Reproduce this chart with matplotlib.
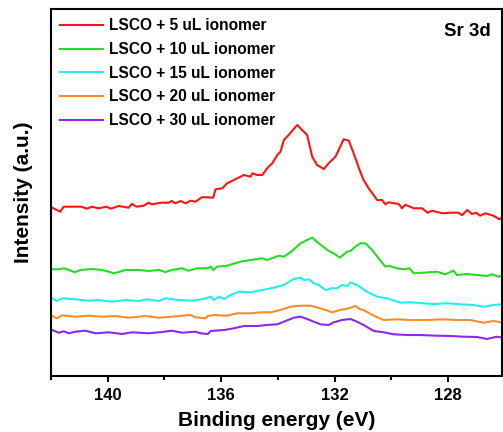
import matplotlib
matplotlib.use("Agg")
import matplotlib.pyplot as plt
from matplotlib.ticker import MultipleLocator

plt.rcParams['font.family'] = ['Liberation Sans', 'DejaVu Sans']
plt.rcParams['font.weight'] = 'bold'

# Sr 3d XPS spectra, binding energy (eV) vs intensity (a.u., offset stacked)
be_5 = [141.96, 141.67, 141.55, 140.92, 140.74, 140.56, 140.32, 140.04, 139.89, 139.61,
        139.26, 139.15, 138.98, 138.73, 138.56, 138.45, 138.10, 137.85, 137.75, 137.61,
        137.43, 137.25, 137.08, 136.90, 136.69, 136.48, 136.28, 136.20, 135.96, 135.79,
        135.43, 135.20, 134.96, 134.90, 134.73, 134.55, 134.38, 134.20, 134.02, 133.91,
        133.79, 133.62, 133.32, 132.97, 132.79, 132.62, 132.38, 132.21, 131.97, 131.68,
        131.50, 131.33, 131.12, 130.98, 130.80, 130.50, 130.33, 130.21, 130.10, 129.74,
        129.62, 129.51, 129.21, 128.92, 128.72, 128.57, 128.21, 127.92, 127.63, 127.51,
        127.33, 127.16, 127.01, 126.87, 126.69, 126.40, 126.19, 126.07]
int_5 = [168.3, 164.3, 169.3, 169.3, 167.3, 169.3, 167.7, 169.3, 167.3, 170.0,
         168.3, 172.0, 169.3, 170.3, 173.3, 171.7, 173.3, 173.3, 175.0, 172.7,
         175.0, 172.7, 175.3, 174.3, 178.7, 178.7, 178.3, 186.7, 187.7, 192.7,
         197.7, 201.0, 199.3, 202.7, 201.0, 201.0, 207.7, 212.7, 221.0, 224.3,
         236.0, 241.0, 251.0, 241.0, 219.3, 211.0, 207.0, 212.7, 219.3, 236.7,
         235.3, 222.7, 206.0, 196.0, 187.7, 176.0, 176.0, 171.7, 173.7, 172.0,
         167.7, 171.3, 167.7, 167.7, 163.3, 165.3, 162.7, 163.3, 163.3, 160.7,
         166.0, 162.0, 163.3, 160.3, 162.7, 160.3, 156.7, 159.3]

be_10 = [141.96, 141.73, 141.55, 141.37, 141.16, 140.96, 140.55, 140.20, 139.96, 139.79,
         139.61, 139.38, 138.91, 138.56, 138.20, 137.97, 137.74, 137.38, 137.15, 136.86,
         136.47, 136.37, 136.28, 136.14, 135.79, 135.32, 134.96, 134.55, 134.38, 133.97,
         133.79, 133.50, 133.20, 132.97, 132.79, 132.56, 132.21, 132.03, 131.82, 131.56,
         131.44, 131.27, 131.09, 130.92, 130.68, 130.45, 130.21, 130.10, 129.80, 129.57,
         129.36, 129.21, 128.86, 128.39, 128.10, 127.81, 127.69, 127.33, 126.98, 126.63,
         126.45, 126.22, 126.07]
int_10 = [106.7, 106.7, 107.7, 106.0, 103.7, 106.0, 107.0, 106.0, 104.3, 102.7,
          104.0, 106.0, 106.0, 105.0, 106.0, 104.0, 106.0, 107.7, 105.3, 107.7,
          107.7, 109.3, 106.0, 109.3, 110.3, 114.3, 116.0, 117.7, 116.0, 120.3,
          119.3, 125.0, 132.7, 136.0, 138.3, 132.7, 125.0, 122.7, 118.3, 124.3,
          125.0, 129.3, 132.7, 132.7, 126.0, 117.7, 109.3, 110.3, 107.7, 106.7,
          107.7, 102.7, 103.3, 104.3, 101.7, 105.3, 101.0, 102.0, 101.0, 100.0,
          101.7, 99.3, 101.0]

be_15 = [141.96, 141.79, 141.61, 141.14, 140.67, 140.32, 139.85, 139.38, 138.91, 138.62,
         138.20, 137.97, 137.50, 137.03, 136.68, 136.47, 136.37, 136.26, 136.08, 135.90,
         135.67, 135.38, 134.96, 134.55, 134.14, 133.79, 133.44, 133.20, 133.09, 132.91,
         132.74, 132.56, 132.32, 132.09, 131.91, 131.74, 131.56, 131.44, 131.21, 130.86,
         130.50, 130.15, 129.68, 129.33, 128.86, 128.51, 128.04, 127.57, 127.10, 126.75,
         126.40, 126.07]
int_15 = [77.7, 75.0, 77.7, 76.7, 75.3, 76.0, 74.3, 76.0, 75.0, 76.7,
          75.0, 77.7, 76.0, 75.3, 76.7, 78.3, 79.3, 76.0, 79.3, 77.0,
          81.0, 84.3, 83.7, 86.0, 88.3, 91.0, 97.0, 98.3, 96.0, 96.7,
          92.7, 91.0, 86.0, 87.7, 87.7, 91.0, 90.0, 93.5, 91.0, 84.3,
          79.3, 77.7, 73.3, 73.7, 72.7, 72.0, 72.7, 71.7, 71.0, 69.3,
          71.0, 71.7]

be_20 = [141.96, 141.79, 141.61, 141.14, 140.67, 140.20, 139.73, 139.26, 138.67, 138.20,
         137.74, 137.09, 136.91, 136.56, 136.47, 136.26, 135.79, 135.43, 134.96, 134.61,
         134.26, 133.91, 133.56, 133.20, 132.85, 132.50, 132.09, 131.80, 131.50, 131.27,
         131.12, 130.98, 130.62, 130.27, 129.80, 129.33, 128.74, 128.16, 127.69, 127.22,
         126.75, 126.40, 126.07]
int_20 = [60.0, 57.7, 60.7, 59.3, 60.3, 59.3, 60.0, 58.3, 60.0, 58.3,
          59.3, 61.0, 58.7, 57.7, 60.0, 61.0, 60.3, 62.7, 62.7, 63.7,
          63.7, 66.0, 69.3, 70.3, 70.3, 67.7, 63.7, 66.0, 67.7, 70.0,
          67.0, 66.0, 60.3, 56.0, 56.7, 56.0, 56.0, 56.7, 56.0, 56.0,
          53.3, 55.0, 53.3]

be_30 = [141.96, 141.73, 141.55, 141.37, 141.14, 140.79, 140.43, 139.96, 139.50, 139.14,
         138.56, 138.09, 137.74, 137.38, 136.91, 136.73, 136.47, 136.37, 135.90, 135.55,
         135.20, 134.73, 134.38, 134.02, 133.73, 133.44, 133.20, 132.97, 132.74, 132.50,
         132.21, 132.03, 131.74, 131.44, 131.21, 130.98, 130.62, 130.27, 129.92, 129.45,
         128.98, 128.39, 127.92, 127.45, 126.98, 126.63, 126.28, 126.07]
int_30 = [46.0, 43.3, 44.7, 42.7, 44.3, 45.3, 42.7, 43.7, 42.0, 43.7,
          42.7, 44.0, 45.3, 43.3, 44.3, 42.7, 42.0, 45.0, 46.0, 47.7,
          50.0, 50.0, 51.0, 51.7, 55.0, 58.3, 59.3, 57.0, 54.3, 51.7,
          51.0, 53.7, 56.0, 57.0, 54.3, 51.0, 45.0, 43.7, 41.7, 41.0,
          41.0, 40.3, 40.0, 39.3, 39.0, 37.0, 39.3, 38.3]

labels = ["LSCO + 5 uL ionomer", "LSCO + 10 uL ionomer", "LSCO + 15 uL ionomer",
          "LSCO + 20 uL ionomer", "LSCO + 30 uL ionomer"]
colors = ['#ff1414', '#22dd22', '#22eeee', '#ff8c2a', '#8a2af0']

fig = plt.figure(figsize=(5.03, 4.32), dpi=100)
ax = fig.add_axes([51 / 503, 56 / 432, 451 / 503, 367 / 432])

series = [(be_5, int_5), (be_10, int_10), (be_15, int_15), (be_20, int_20), (be_30, int_30)]
for (x, y), lab, c in zip(series, labels, colors):
    ax.plot(x, y, color=c, lw=1.5, label=lab)

ax.set_xlim(142, 126.1)
ax.set_ylim(0, 367)
ax.xaxis.set_major_locator(MultipleLocator(4))
ax.xaxis.set_minor_locator(MultipleLocator(2))
ax.set_yticks([])
ax.tick_params(axis='x', which='major', direction='out', length=4.5, width=1.5,
               labelsize=12, pad=4)
ax.tick_params(axis='x', which='minor', direction='out', length=3, width=1.5)
for lbl in ax.get_xticklabels():
    lbl.set_fontweight('bold')
for sp in ax.spines.values():
    sp.set_linewidth(1.5)

ax.set_xlabel("Binding energy (eV)", fontsize=15, fontweight='bold', labelpad=6)
ax.set_ylabel("Intensity (a.u.)", fontsize=15, fontweight='bold', labelpad=13)

ax.legend(loc='upper left', bbox_to_anchor=(0.0, 1.0), frameon=False,
          handlelength=2.75, handletextpad=0.35, labelspacing=0.56, borderaxespad=0.2,
          prop={'weight': 'bold', 'size': 11.2})
ax.text(0.975, 0.94, "Sr 3d", transform=ax.transAxes, ha='right', va='center',
        fontsize=13.5, fontweight='bold')

fig.savefig("out.png", dpi=100)
